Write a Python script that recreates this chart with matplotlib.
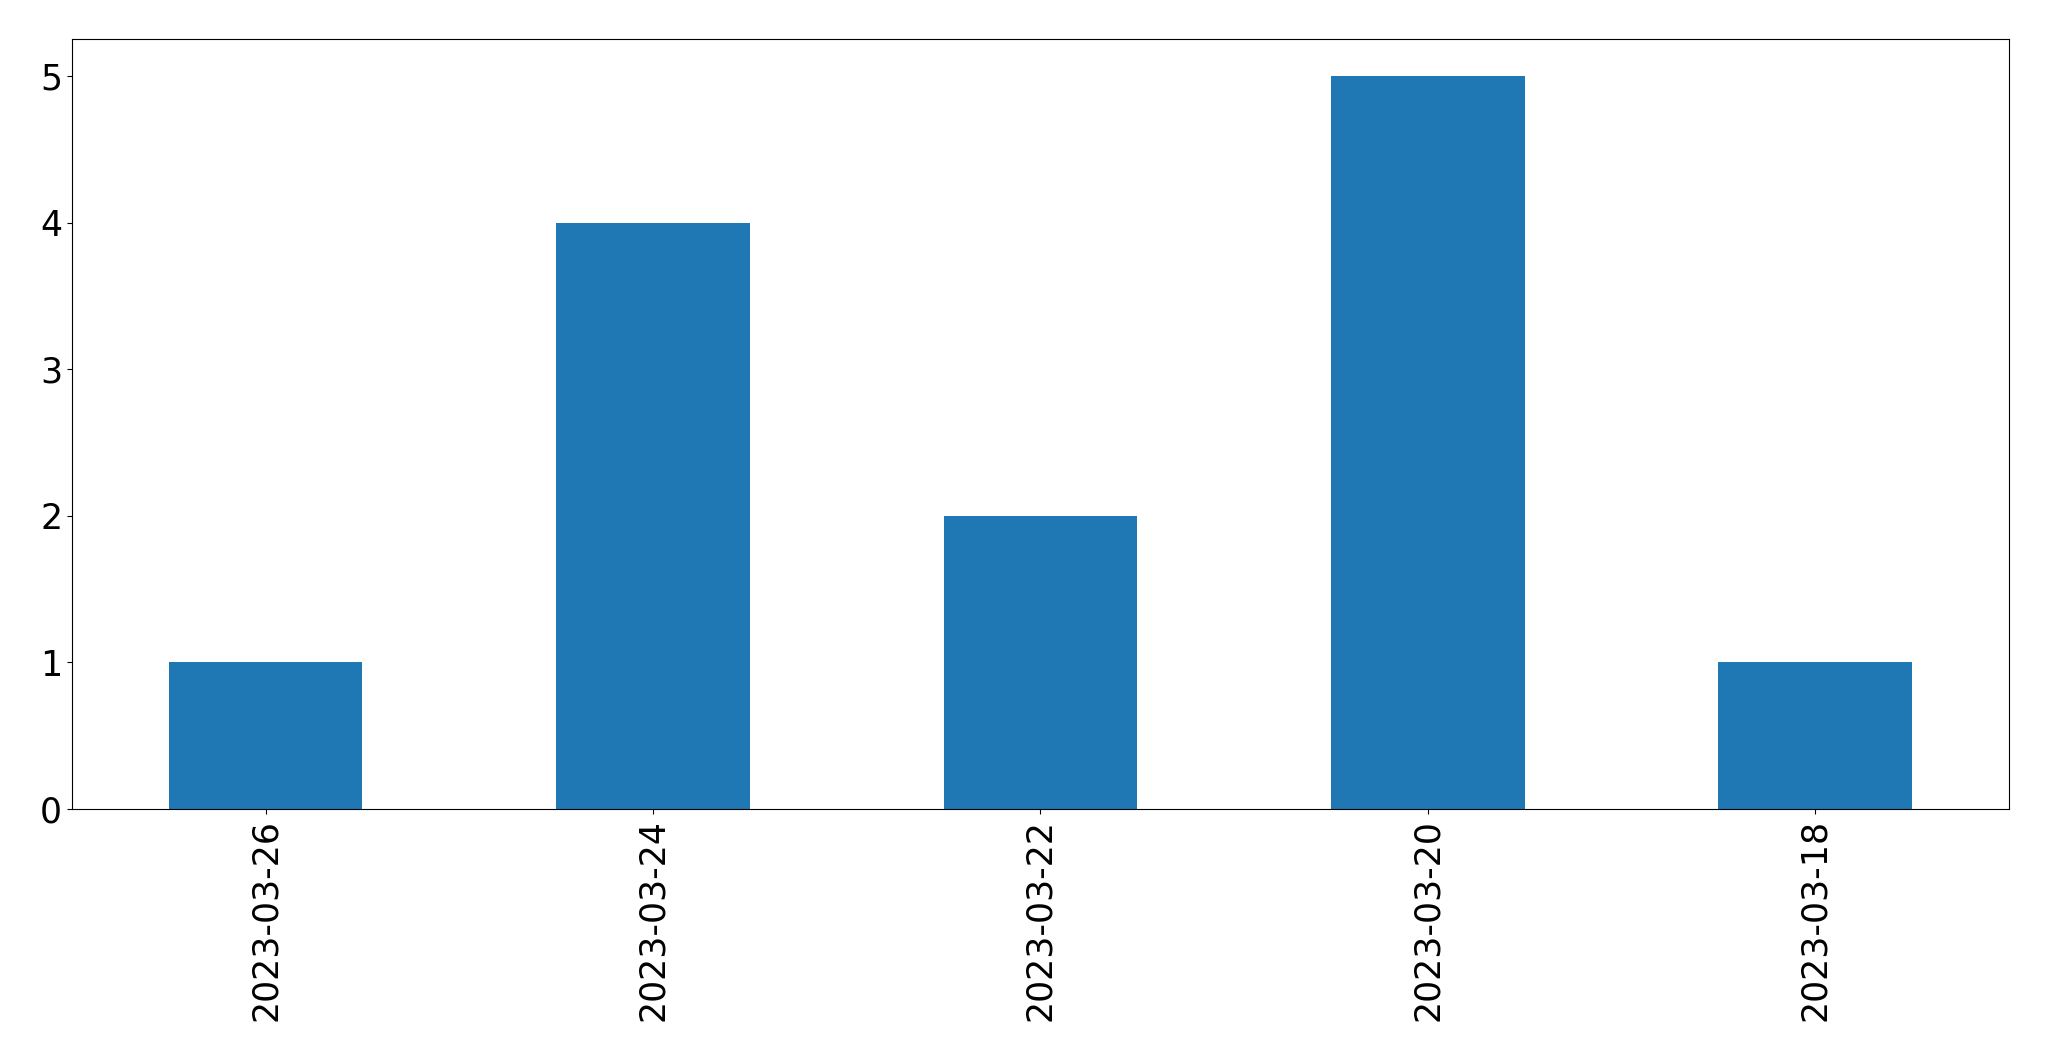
import pandas as pd
import matplotlib
matplotlib.use('Agg')
import matplotlib.pyplot as plt

dates = ['2023-03-26', '2023-03-24', '2023-03-22', '2023-03-20', '2023-03-18']
counts = [1, 4, 2, 5, 1]

s = pd.Series(counts, index=dates)

fig = plt.figure(figsize=(20.49, 10.61), dpi=100)
ax = fig.add_subplot(111)
s.plot(kind='bar', ax=ax, fontsize=25)
fig.subplots_adjust(left=0.0351, right=0.9805, top=0.963, bottom=0.2375)
fig.savefig('out.png', dpi=100)
